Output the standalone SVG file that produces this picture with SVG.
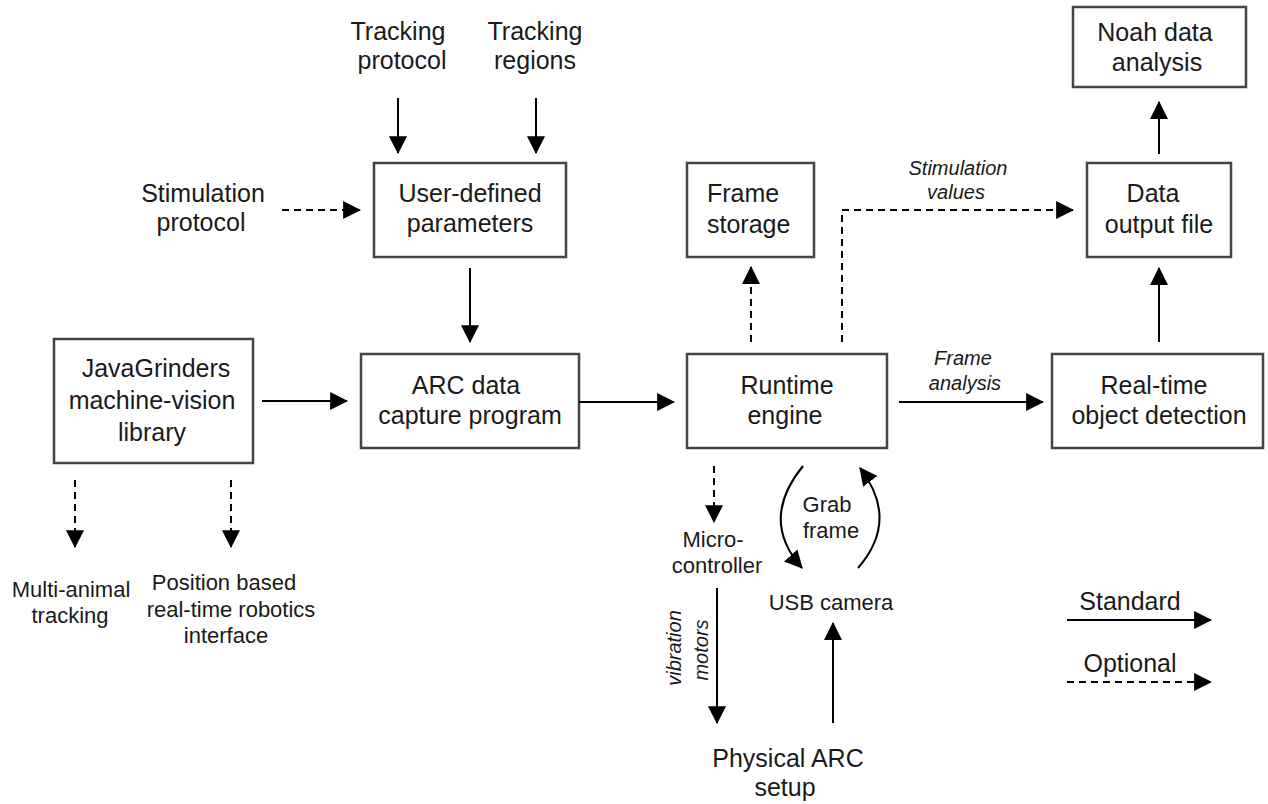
<svg xmlns="http://www.w3.org/2000/svg" width="1268" height="804" viewBox="0 0 1268 804">
<defs>
<marker id="ah" markerUnits="userSpaceOnUse" markerWidth="18" markerHeight="18" viewBox="0 0 16 16" refX="15" refY="8" orient="auto">
<path d="M0,0 L16,8 L0,16 Z" fill="#000"/>
</marker>
</defs>
<style>
text{font-family:"Liberation Sans",Arial,sans-serif;fill:#1a1a1a;text-anchor:middle}
.m{font-size:25px}
.s{font-size:22px}
.i{font-size:20px;font-style:italic}
.box{fill:#fff;stroke:#444;stroke-width:2.5}
.ln{fill:none;stroke:#000;stroke-width:2;marker-end:url(#ah)}
.d{stroke-dasharray:7 5}
</style>
<rect width="1268" height="804" fill="#fff"/>

<g id="tracking-protocol"><text class="m" x="398" y="40">Tracking</text><text class="m" x="402" y="69">protocol</text></g>
<g id="tracking-regions"><text class="m" x="535" y="40">Tracking</text><text class="m" x="535" y="69">regions</text></g>
<g id="stimulation-protocol"><text class="m" x="203" y="202">Stimulation</text><text class="m" x="201" y="231">protocol</text></g>
<g id="user-defined"><rect class="box" x="374" y="163" width="192" height="94"/><text class="m" x="470" y="202">User-defined</text><text class="m" x="470" y="232">parameters</text></g>
<g id="frame-storage"><rect class="box" x="687" y="163" width="127" height="94"/><text class="m" x="707" y="202" style="text-anchor:start">Frame</text><text class="m" x="707" y="233" style="text-anchor:start">storage</text></g>
<g id="data-output"><rect class="box" x="1087" y="163" width="144" height="94"/><text class="m" x="1153" y="202">Data</text><text class="m" x="1159" y="233">output file</text></g>
<g id="noah"><rect class="box" x="1073" y="7" width="173" height="80"/><text class="m" x="1155" y="41">Noah data</text><text class="m" x="1157" y="71">analysis</text></g>
<g id="javagrinders"><rect class="box" x="54" y="339" width="199" height="124"/><text class="m" x="156" y="377">JavaGrinders</text><text class="m" x="152" y="409">machine-vision</text><text class="m" x="152" y="441">library</text></g>
<g id="arc-program"><rect class="box" x="361" y="354" width="218" height="94"/><text class="m" x="466" y="394">ARC data</text><text class="m" x="470" y="424">capture program</text></g>
<g id="runtime"><rect class="box" x="687" y="354" width="200" height="94"/><text class="m" x="787" y="394">Runtime</text><text class="m" x="785" y="424">engine</text></g>
<g id="realtime"><rect class="box" x="1052" y="354" width="211" height="94"/><text class="m" x="1154" y="394">Real-time</text><text class="m" x="1159" y="424">object detection</text></g>
<g id="multi-animal"><text class="s" x="71" y="597">Multi-animal</text><text class="s" x="70" y="623">tracking</text></g>
<g id="position-based"><text class="s" x="224" y="590">Position based</text><text class="s" x="231" y="617">real-time robotics</text><text class="s" x="226" y="643">interface</text></g>
<g id="microcontroller"><text class="s" x="713" y="547">Micro-</text><text class="s" x="717" y="573">controller</text></g>
<g id="usb-camera"><text class="s" x="831" y="610">USB camera</text></g>
<g id="physical-arc"><text class="m" x="788" y="767">Physical ARC</text><text class="m" x="785" y="796">setup</text></g>
<g id="legend"><text class="m" x="1130" y="610">Standard</text><text class="m" x="1130" y="672">Optional</text>
<line class="ln" x1="1067" y1="620" x2="1211" y2="620"/><line class="ln d" x1="1067" y1="682" x2="1211" y2="682"/></g>

<g id="connectors">
<line class="ln" x1="398" y1="98" x2="398" y2="153"/>
<line class="ln" x1="536" y1="98" x2="536" y2="153"/>
<line class="ln d" x1="282" y1="210" x2="360" y2="210"/>
<line class="ln" x1="470" y1="268" x2="470" y2="342"/>
<line class="ln" x1="262" y1="401" x2="347" y2="401"/>
<line class="ln" x1="579" y1="402" x2="674" y2="402"/>
<line class="ln" x1="899" y1="402" x2="1043" y2="402"/>
<line class="ln d" x1="751" y1="342" x2="751" y2="267"/>
<path class="ln d" d="M842,342 V210 H1073"/>
<line class="ln" x1="1159" y1="342" x2="1159" y2="268"/>
<line class="ln" x1="1159" y1="154" x2="1159" y2="102"/>
<line class="ln d" x1="75" y1="480" x2="75" y2="547"/>
<line class="ln d" x1="231" y1="480" x2="231" y2="547"/>
<line class="ln d" x1="714" y1="466" x2="714" y2="522"/>
<path class="ln" d="M803,466 Q759,520 802,568"/>
<path class="ln" d="M858,568 Q900,520 860,468"/>
<line class="ln" x1="717" y1="588" x2="717" y2="723"/>
<line class="ln" x1="833" y1="723" x2="833" y2="623"/>
</g>
<g id="labels">
<text class="i" x="958" y="175">Stimulation</text><text class="i" x="956" y="199">values</text>
<text class="i" x="963" y="365">Frame</text><text class="i" x="965" y="390">analysis</text>
<text class="s" x="827" y="512">Grab</text><text class="s" x="831" y="538">frame</text>
<text class="i" transform="translate(681,648) rotate(-90)">vibration</text>
<text class="i" transform="translate(708,650) rotate(-90)">motors</text>
</g>
</svg>
